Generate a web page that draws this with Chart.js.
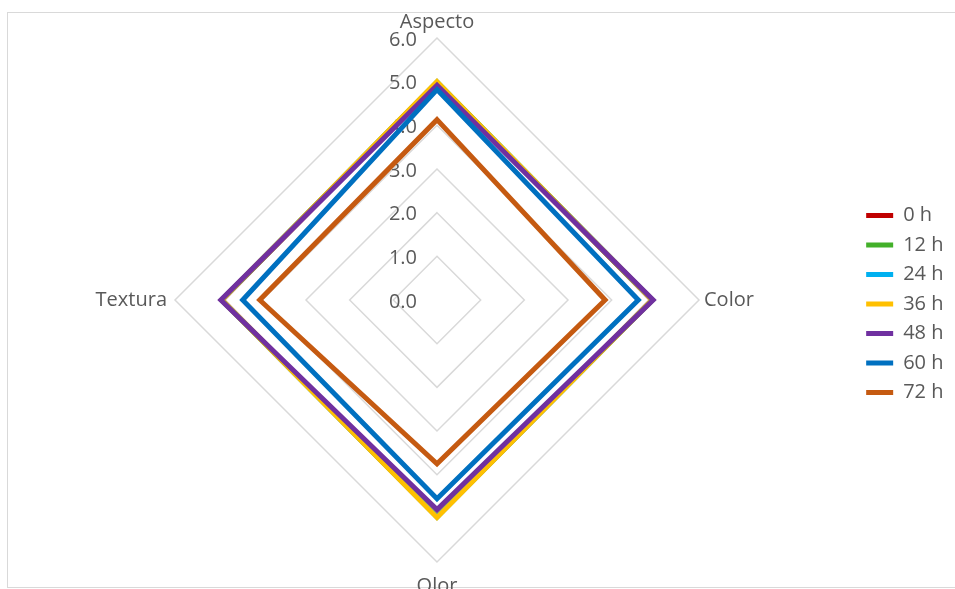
<!DOCTYPE html>
<html>
<head>
<meta charset="utf-8">
<script src="https://cdn.jsdelivr.net/npm/chart.js@4/dist/chart.umd.min.js"></script>
<style>
  html, body { margin: 0; padding: 0; background: #ffffff; overflow: hidden; width: 955px; height: 589px; }
  #frame { position: absolute; left: 7px; top: 12px; width: 960px; height: 574px; border: 1px solid #d9d9d9; }
  #wrap { position: absolute; left: 0; top: 0; width: 955px; height: 604px; }
</style>
</head>
<body>
<div id="frame"></div>
<div id="wrap"><canvas id="c"></canvas></div>
<script>
const categories = ['Aspecto', 'Color', 'Olor', 'Textura'];
const seriesNames = ['0 h', '12 h', '24 h', '36 h', '48 h', '60 h', '72 h'];
const s0h  = [4.98, 4.92, 4.96, 4.92];
const s12h = [4.99, 4.93, 4.97, 4.93];
const s24h = [4.99, 4.93, 4.97, 4.93];
const s36h = [5.00, 4.93, 4.98, 4.93];
const s48h = [4.92, 4.95, 4.80, 4.95];
const s60h = [4.82, 4.61, 4.55, 4.45];
const s72h = [4.13, 3.85, 3.75, 4.06];
const tickLabels = ['0.0', '1.0', '2.0', '3.0', '4.0', '5.0', '6.0'];
const seriesColors = ['#C00000', '#43B02A', '#00B0F0', '#FFC000', '#7030A0', '#0070C0', '#C55A11'];

const seriesValues = [s0h, s12h, s24h, s36h, s48h, s60h, s72h];
const FONT = '"Open Sans", "DejaVu Sans", sans-serif';
const TEXT = '#595959';
const labelPad = [4, 5, 12, 8];

const tickLabelPlugin = {
  id: 'tickLabelsLeft',
  beforeDatasetsDraw(chart) {
    const s = chart.scales.r;
    const ctx = chart.ctx;
    ctx.save();
    ctx.font = '20px ' + FONT;
    ctx.fillStyle = TEXT;
    ctx.textAlign = 'right';
    ctx.textBaseline = 'middle';
    s.ticks.forEach((t, i) => {
      const d = s.getDistanceFromCenterForValue(t.value);
      ctx.fillText(tickLabels[i], s.xCenter - 20, s.yCenter - d + 2);
    });
    ctx.restore();
  }
};

new Chart(document.getElementById('c'), {
  type: 'radar',
  data: {
    labels: categories,
    datasets: seriesNames.map((name, i) => ({
      label: name,
      data: seriesValues[i],
      order: seriesNames.length - 1 - i,
      borderColor: seriesColors[i],
      backgroundColor: seriesColors[i],
      borderWidth: 5,
      borderJoinStyle: 'miter',
      fill: false,
      pointRadius: 0,
      pointHoverRadius: 0,
      tension: 0
    }))
  },
  options: {
    responsive: true,
    maintainAspectRatio: false,
    animation: false,
    layout: { padding: { left: 18, right: 1.5, top: 6, bottom: 2 } },
    plugins: {
      legend: {
        position: 'right',
        reverse: true,
        labels: {
          usePointStyle: true,
          pointStyle: 'line',
          pointStyleWidth: 27,
          padding: 9.5,
          color: TEXT,
          font: { family: FONT, size: 20 }
        }
      },
      tooltip: { enabled: false }
    },
    scales: {
      r: {
        min: 0,
        max: 6,
        ticks: { stepSize: 1, display: false },
        grid: { color: '#d9d9d9', lineWidth: 1.5 },
        angleLines: { display: false },
        pointLabels: {
          padding: (ctx) => labelPad[ctx.index],
          color: TEXT,
          font: { family: FONT, size: 20 }
        }
      }
    }
  },
  plugins: [tickLabelPlugin]
});
</script>
</body>
</html>
